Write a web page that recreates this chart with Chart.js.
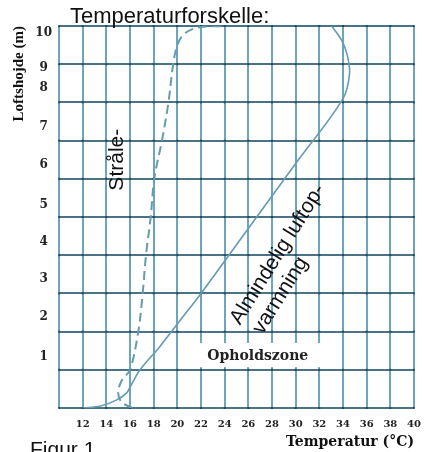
<!DOCTYPE html>
<html>
<head>
<meta charset="utf-8">
<script src="https://cdn.jsdelivr.net/npm/chart.js@4"></script>
<style>
  body { margin: 0; background: #fff; }
</style>
</head>
<body>
<canvas id="figur" width="424" height="452"></canvas>
<script>
// "Almindelig luftopvarmning" (solid)
const solidX = [12, 13.5, 14.8, 15.7, 16.1, 16.85, 18.5, 20, 22, 26, 30, 34, 34.55, 34.35, 33.9, 33.05];
const solidY = [0, 0.05, 0.2, 0.39, 0.6, 1.0, 1.6, 2.2, 3.0, 4.7, 6.4, 8.1, 8.75, 9.25, 9.62, 10];

// "Stråle-" (dashed)
const dashX = [16.2, 15.3, 15.0, 15.3, 16.0, 16.7, 17.07, 17.35, 17.75, 18.05, 18.7, 19.25, 19.65, 20.0, 20.6, 21.9, 24.0];
const dashY = [0.0, 0.15, 0.4, 0.72, 1.0, 2, 3, 4, 5, 6, 7, 8, 9, 9.5, 9.8, 9.97, 10];

// y tick labels sit between the grid lines in the original
const yTickLabels = ['1', '2', '3', '4', '5', '6', '7', '8', '9', '10'];
const yTickPos = [1.34, 2.38, 3.38, 4.35, 5.31, 6.36, 7.36, 8.38, 8.9, 9.82];

const vGridColor = 'rgb(108,166,190)';
const hGridColor = 'rgb(74,116,134)';
const curveColor = 'rgb(100,155,175)';

function pts(xs, ys) {
    return xs.map((x, i) => ({ x: x, y: ys[i] }));
}

const notes = {
    id: 'notes',
    beforeDatasetsDraw(chart) {
        // dark specks where the grid lines cross, like the scanned original
        const ctx = chart.ctx;
        const xs = chart.scales.x, ys = chart.scales.y;
        ctx.save();
        ctx.fillStyle = 'rgba(25,35,45,0.6)';
        xs.ticks.forEach(tx => {
            ys.ticks.forEach(ty => {
                const px = xs.getPixelForValue(tx.value), py = ys.getPixelForValue(ty.value);
                ctx.fillRect(px - 1, py - 1, 2, 2);
            });
        });
        ctx.restore();
    },
    afterDatasetsDraw(chart) {
        const ctx = chart.ctx;
        const xs = chart.scales.x, ys = chart.scales.y;

        // Opholdszone label with white box over the grid
        ctx.save();
        const x0 = xs.getPixelForValue(21.8), x1 = xs.getPixelForValue(32.5);
        const y0 = ys.getPixelForValue(1.7), y1 = ys.getPixelForValue(1.07);
        ctx.fillStyle = '#fff';
        ctx.fillRect(x0, y0, x1 - x0, y1 - y0);
        ctx.fillStyle = '#222';
        ctx.font = 'bold 14px "DejaVu Serif"';
        ctx.textAlign = 'center';
        ctx.textBaseline = 'middle';
        ctx.fillText('Opholdszone', xs.getPixelForValue(26.8), ys.getPixelForValue(1.36));
        ctx.restore();
    },
    afterDraw(chart) {
        const ctx = chart.ctx;
        const xs = chart.scales.x, ys = chart.scales.y;
        const area = chart.chartArea;
        ctx.save();
        ctx.fillStyle = '#111';
        ctx.font = '22px "Liberation Sans"';
        ctx.textAlign = 'left';
        ctx.textBaseline = 'alphabetic';
        ctx.fillText('Temperaturforskelle:', area.left + 11, area.top - 3);

        ctx.font = '21px "Liberation Sans"';
        ctx.fillText('Figur 1', 30, 456);

        // Stråle-
        ctx.save();
        ctx.translate(xs.getPixelForValue(14.95), ys.getPixelForValue(6.5));
        ctx.rotate(-Math.PI / 2);
        ctx.textAlign = 'center';
        ctx.textBaseline = 'middle';
        ctx.fillText('Stråle-', 0, 0);
        ctx.restore();

        // Almindelig luftopvarmning
        ctx.save();
        ctx.translate(xs.getPixelForValue(25.3), ys.getPixelForValue(2.15));
        ctx.rotate(-58 * Math.PI / 180);
        ctx.textAlign = 'left';
        ctx.fillText('Almindelig luftop-', 0, 0);
        ctx.fillText('varmning', 4, 24);
        ctx.restore();

        ctx.restore();
    }
};

new Chart(document.getElementById('figur'), {
    type: 'line',
    data: {
        datasets: [{
            label: 'Almindelig luftopvarmning',
            data: pts(solidX, solidY),
            borderColor: curveColor,
            borderWidth: 1.6,
            pointRadius: 0,
            tension: 0.35,
            fill: false
        }, {
            label: 'Stråle-',
            data: pts(dashX, dashY),
            borderColor: curveColor,
            borderWidth: 2,
            borderDash: [9, 5],
            pointRadius: 0,
            tension: 0.35,
            fill: false
        }]
    },
    options: {
        responsive: false,
        animation: false,
        layout: { padding: { top: 26, right: 10, left: 0, bottom: 0 } },
        plugins: {
            legend: { display: false },
            tooltip: { enabled: false }
        },
        scales: {
            x: {
                type: 'linear',
                min: 10,
                max: 40,
                border: { display: false },
                grid: { color: vGridColor, lineWidth: 2, drawTicks: false },
                ticks: {
                    stepSize: 2,
                    padding: 10,
                    color: '#222',
                    font: { family: 'DejaVu Serif', weight: 'bold', size: 10 },
                    callback: (v) => v === 10 ? '' : v
                },
                title: {
                    display: true,
                    text: 'Temperatur (°C)',
                    align: 'end',
                    color: '#111',
                    font: { family: 'DejaVu Serif', weight: 'bold', size: 14 },
                    padding: { top: 0, bottom: 1 }
                },
                afterFit(scale) {
                    scale.height = 44;
                    scale.paddingLeft = 0;
                    scale.paddingRight = 0;
                }
            },
            yl: {
                type: 'linear',
                position: 'left',
                min: 0,
                max: 10,
                border: { display: false },
                grid: { display: false, drawTicks: false },
                afterBuildTicks(scale) {
                    scale.ticks = yTickPos.map(v => ({ value: v }));
                },
                ticks: {
                    autoSkip: false,
                    crossAlign: 'center',
                    padding: 7,
                    color: '#222',
                    font: { family: 'DejaVu Serif', weight: 'bold', size: 12 },
                    callback: (v, i) => yTickLabels[i]
                },
                title: {
                    display: true,
                    text: 'Loftshojde (m)',
                    align: 'end',
                    color: '#111',
                    font: { family: 'Liberation Serif', weight: 'bold', size: 15 },
                    padding: { top: 10, bottom: 0 }
                },
                afterFit(scale) { scale.width = 59; }
            },
            y: {
                type: 'linear',
                position: 'left',
                min: 0,
                max: 10,
                border: { display: false },
                grid: { color: hGridColor, lineWidth: 2, drawTicks: false },
                ticks: { display: false, stepSize: 1 },
                afterFit(scale) { scale.width = 0; }
            }
        }
    },
    plugins: [notes]
});
</script>
</body>
</html>
